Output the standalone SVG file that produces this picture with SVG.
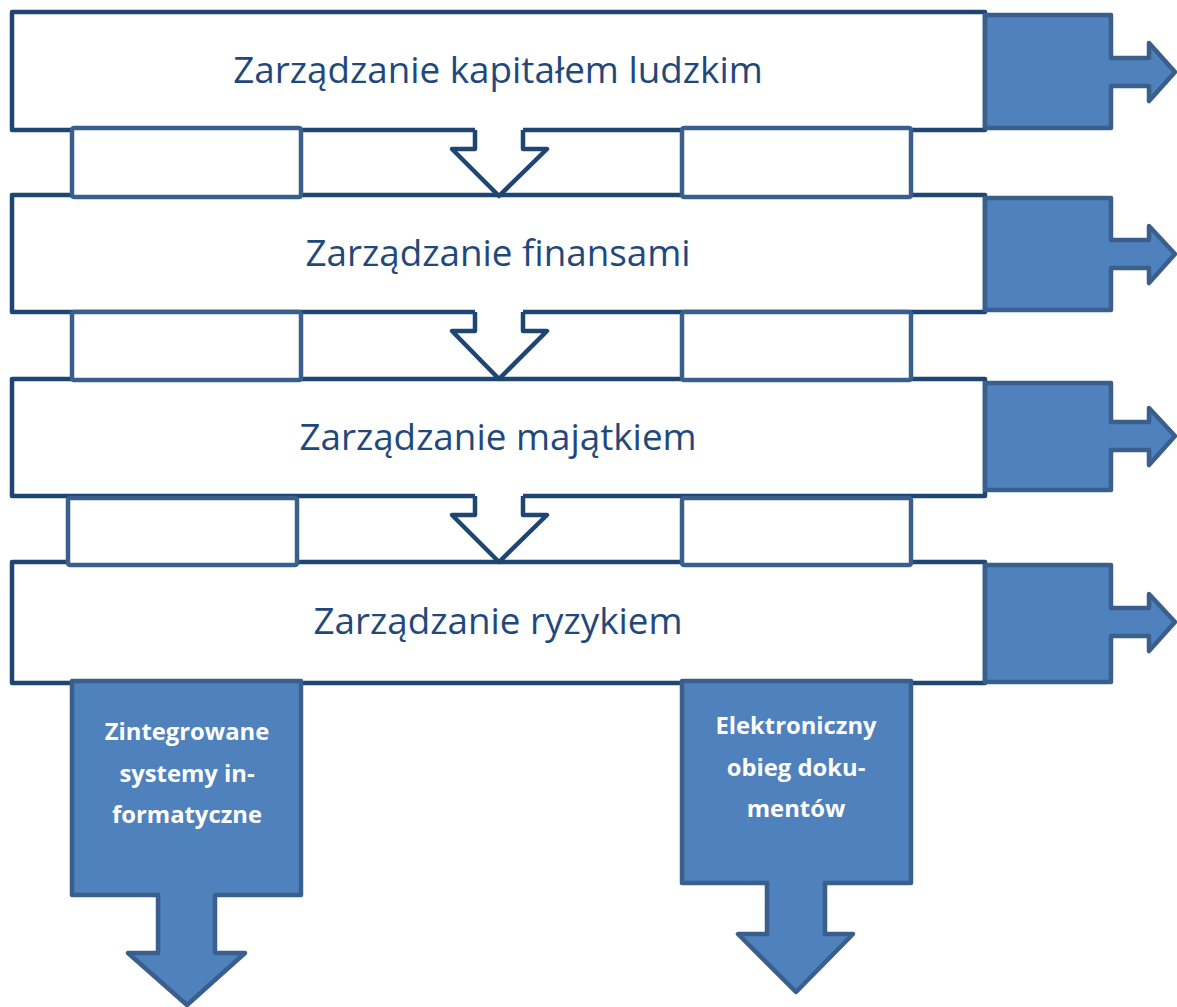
<svg xmlns="http://www.w3.org/2000/svg" width="1177" height="1007" viewBox="0 0 1177 1007">
<style>
.main{fill:#fff;stroke:#1F4572;stroke-width:4.5;stroke-linejoin:round}
.link{fill:#fff;stroke:#3A5F8D;stroke-width:4.5;stroke-linejoin:round}
.dn{fill:none;stroke:#1F4572;stroke-width:4.5;stroke-linejoin:round}
.blue{fill:#4F81BD;stroke:#3A5F8D;stroke-width:4.5;stroke-linejoin:round}
.t{font-family:"Open Sans","Liberation Sans",sans-serif;font-size:36.8px;fill:#1F497D;text-anchor:middle}
.w{font-family:"Open Sans","Liberation Sans",sans-serif;font-size:23.8px;font-weight:bold;fill:#fff;text-anchor:middle}
</style>
<g id="box1"><rect class="main" x="12" y="12" width="973" height="118"/><text class="t" x="498" y="83">Zarządzanie kapitałem ludzkim</text></g>
<g id="box2"><rect class="main" x="12" y="195" width="973" height="117"/><text class="t" x="498" y="266">Zarządzanie finansami</text></g>
<g id="box3"><rect class="main" x="12" y="379" width="973" height="117"/><text class="t" x="498" y="450">Zarządzanie majątkiem</text></g>
<g id="box4"><rect class="main" x="12" y="562" width="973" height="121"/><text class="t" x="498" y="634">Zarządzanie ryzykiem</text></g>
<g id="connectors">
<g id="down1"><polygon fill="#fff" points="475,124 475,149 452,149 499,196 547,149 523,149 523,124"/><path class="dn" d="M475,130 V149 H452 L499,196 L547,149 H523 V130"/></g>
<g id="down2"><polygon fill="#fff" points="475,306 475,331 452,331 499,379 547,331 523,331 523,306"/><path class="dn" d="M475,312 V331 H452 L499,379 L547,331 H523 V312"/></g>
<g id="down3"><polygon fill="#fff" points="475,490 475,515 452,515 499,562 547,515 523,515 523,490"/><path class="dn" d="M475,496 V515 H452 L499,562 L547,515 H523 V496"/></g>
<rect class="link" x="72" y="128" width="229" height="69" rx="2"/>
<rect class="link" x="682" y="128" width="229" height="69" rx="2"/>
<rect class="link" x="72" y="312" width="229" height="68" rx="2"/>
<rect class="link" x="682" y="312" width="229" height="68" rx="2"/>
<rect class="link" x="68" y="498" width="229" height="67" rx="2"/>
<rect class="link" x="682" y="498" width="229" height="67" rx="2"/>
</g>
<g id="out1"><path class="blue" d="M985,15 H1111 V58 H1149 V43 L1175,72 L1149,101 V86 H1111 V128 H985 Z"/></g>
<g id="out2"><path class="blue" d="M985,198 H1111 V240 H1149 V226 L1175,254 L1149,283 V268 H1111 V310 H985 Z"/></g>
<g id="out3"><path class="blue" d="M985,383 H1111 V422 H1149 V408 L1175,436 L1149,465 V450 H1111 V490 H985 Z"/></g>
<g id="out4"><path class="blue" d="M985,565 H1111 V608 H1149 V594 L1175,622 L1149,651 V636 H1111 V682 H985 Z"/></g>
<g id="sys"><path class="blue" d="M72,681 H301 V895 H215 V953 H245 L187,1005 L128,953 H158 V895 H72 Z"/>
<text class="w" x="187" y="740">Zintegrowane</text><text class="w" x="187" y="782">systemy in-</text><text class="w" x="187" y="823">formatyczne</text></g>
<g id="doc"><path class="blue" d="M682,681 H911 V883 H825 V934 H853 L796,992 L738,934 H767 V883 H682 Z"/>
<text class="w" x="796" y="734">Elektroniczny</text><text class="w" x="796" y="776">obieg doku-</text><text class="w" x="796" y="817">mentów</text></g>
</svg>
